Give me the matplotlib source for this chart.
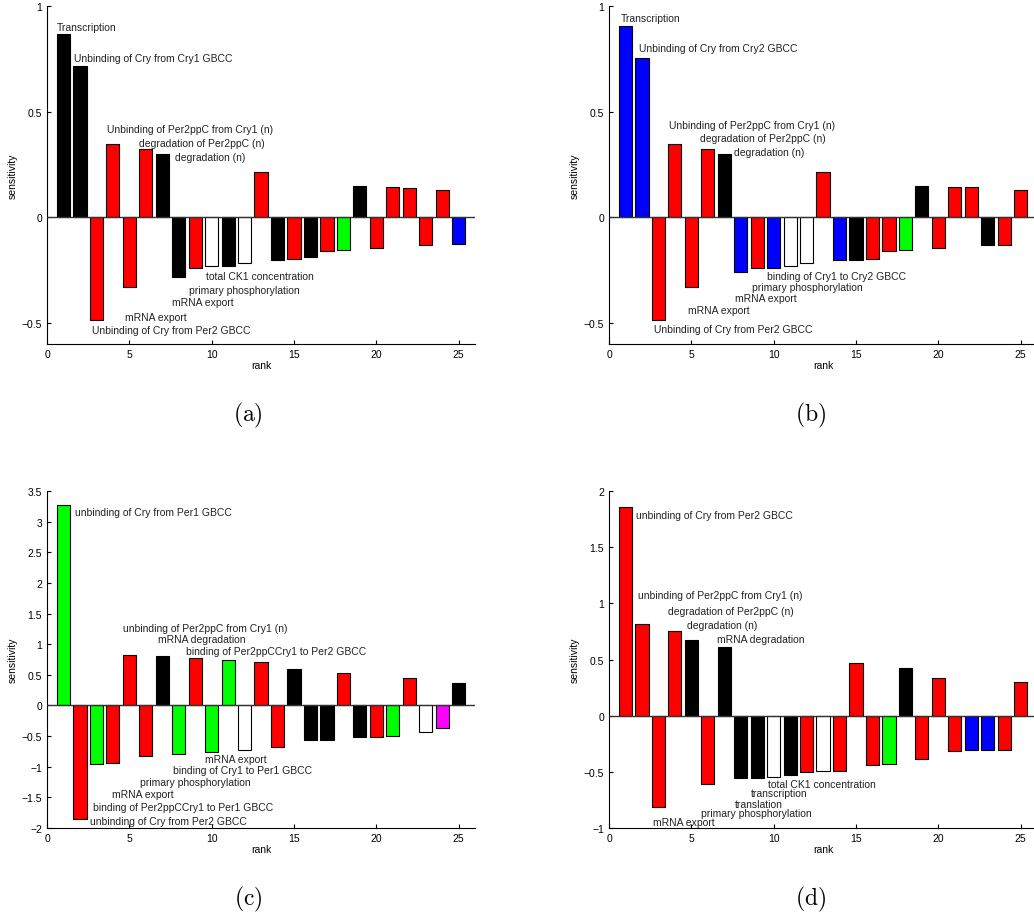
import matplotlib
matplotlib.use('Agg')
import matplotlib.pyplot as plt

plt.rcParams['font.family'] = ['Liberation Sans', 'DejaVu Sans']
plt.rcParams['mathtext.fontset'] = 'cm'

# colour codes per bar: k black, r red, g green, b blue, w white, m magenta
ranks = list(range(1, 26))

vals_a = [0.867, 0.719, -0.486, 0.349, -0.328, 0.322, 0.298, -0.282, -0.241, -0.229,
          -0.230, -0.215, 0.216, -0.202, -0.197, -0.188, -0.159, -0.153, 0.151, -0.144,
          0.144, 0.140, -0.131, 0.132, -0.126]
cols_a = list('kkrrrrkkrwkwrkrkrgkrrrrrb')

vals_b = [0.907, 0.757, -0.486, 0.349, -0.328, 0.322, 0.298, -0.257, -0.240, -0.238,
          -0.229, -0.215, 0.216, -0.203, -0.202, -0.197, -0.158, -0.153, 0.151, -0.144,
          0.145, 0.142, -0.132, -0.131, 0.132]
cols_b = list('bbrrrrkbrbwwrbkrrgkrrrkrr')

vals_c = [3.28, -1.853, -0.962, -0.940, 0.832, -0.832, 0.804, -0.788, 0.777, -0.761,
          0.750, -0.723, 0.712, -0.679, 0.598, -0.560, -0.560, 0.527, -0.522, -0.516,
          -0.500, 0.451, -0.440, -0.370, 0.370]
cols_c = list('grgrrrkgrggwrrkkkrkrgrwmk')

vals_d = [1.858, 0.817, -0.811, 0.751, 0.675, -0.609, 0.609, -0.559, -0.559, -0.544,
          -0.530, -0.500, -0.497, -0.491, 0.473, -0.441, -0.432, 0.423, -0.388, 0.334,
          -0.314, -0.308, -0.308, -0.305, 0.302]
cols_d = list('rrrrkrkkkwkrwrrrgkrrrbbrr')

labels_a = ['Transcription', 'Unbinding of Cry from Cry1 GBCC',
            'Unbinding of Per2ppC from Cry1 (n)', 'degradation of Per2ppC (n)',
            'degradation (n)', 'total CK1 concentration', 'primary phosphorylation',
            'mRNA export', 'mRNA export', 'Unbinding of Cry from Per2 GBCC']
labels_b = ['Transcription', 'Unbinding of Cry from Cry2 GBCC',
            'Unbinding of Per2ppC from Cry1 (n)', 'degradation of Per2ppC (n)',
            'degradation (n)', 'binding of Cry1 to Cry2 GBCC', 'primary phosphorylation',
            'mRNA export', 'mRNA export', 'Unbinding of Cry from Per2 GBCC']
labels_c = ['unbinding of Cry from Per1 GBCC', 'unbinding of Per2ppC from Cry1 (n)',
            'mRNA degradation', 'binding of Per2ppCCry1 to Per2 GBCC', 'mRNA export',
            'binding of Cry1 to Per1 GBCC', 'primary phosphorylation', 'mRNA export',
            'binding of Per2ppCCry1 to Per1 GBCC', 'unbinding of Cry from Per2 GBCC']
labels_d = ['unbinding of Cry from Per2 GBCC', 'unbinding of Per2ppC from Cry1 (n)',
            'degradation of Per2ppC (n)', 'degradation (n)', 'mRNA degradation',
            'total CK1 concentration', 'transcription', 'translation',
            'primary phosphorylation', 'mRNA export']

# where the labels sit (data coords, left edge / vertical centre)
pos_a = [(0.57, 0.90), (1.66, 0.754), (3.64, 0.42), (5.6, 0.352), (7.78, 0.287),
         (9.66, -0.276), (8.65, -0.342), (7.58, -0.402), (4.71, -0.47), (2.75, -0.536)]
pos_b = [(0.69, 0.945), (1.82, 0.803), (3.64, 0.438), (5.55, 0.377), (7.57, 0.309),
         (9.62, -0.279), (8.70, -0.328), (7.63, -0.380), (4.82, -0.437), (2.73, -0.530)]
pos_c = [(1.70, 3.163), (4.61, 1.272), (6.73, 1.082), (8.45, 0.886), (9.60, -0.875),
         (7.64, -1.054), (5.66, -1.25), (3.92, -1.451), (2.79, -1.658), (2.63, -1.88)]
pos_d = [(1.66, 1.79), (1.78, 1.071), (3.56, 0.929), (4.72, 0.805), (6.56, 0.680),
         (9.68, -0.607), (8.60, -0.686), (7.63, -0.784), (5.57, -0.867), (2.67, -0.944)]

colour_map = {'k': 'black', 'r': '#ff0000', 'g': '#00ff00', 'b': '#0000ff',
              'w': 'white', 'm': '#ff00ff'}

fig = plt.figure(figsize=(10.34, 9.2), dpi=100)

panels = [
    ([0.0455, 0.625, 0.414, 0.367], vals_a, cols_a, labels_a, pos_a, (-0.6, 1), [-0.5, 0, 0.5, 1], '(a)'),
    ([0.589, 0.625, 0.414, 0.367], vals_b, cols_b, labels_b, pos_b, (-0.6, 1), [-0.5, 0, 0.5, 1], '(b)'),
    ([0.0455, 0.099, 0.414, 0.366], vals_c, cols_c, labels_c, pos_c, (-2, 3.5),
     [-2, -1.5, -1, -0.5, 0, 0.5, 1, 1.5, 2, 2.5, 3, 3.5], '(c)'),
    ([0.589, 0.099, 0.414, 0.366], vals_d, cols_d, labels_d, pos_d, (-1, 2),
     [-1, -0.5, 0, 0.5, 1, 1.5, 2], '(d)'),
]

for rect, vals, cols, labels, pos, ylim, yticks, cap in panels:
    ax = fig.add_axes(rect)
    ax.bar(ranks, vals, width=0.8, color=[colour_map[c] for c in cols],
           edgecolor='black', linewidth=0.8, zorder=2)
    ax.axhline(0, color='#333333', linewidth=1.0, zorder=3)
    ax.set_xlim(0, 26)
    ax.set_ylim(*ylim)
    ax.set_xticks([0, 5, 10, 15, 20, 25])
    ax.set_yticks(yticks)
    ax.set_yticklabels([('%g' % t).replace('-', '\u2212') for t in yticks])
    ax.spines['top'].set_visible(False)
    ax.spines['right'].set_visible(False)
    ax.tick_params(direction='in', length=3, labelsize=7.5, width=0.8)
    ax.set_xlabel('rank', fontsize=7.5, labelpad=1)
    ax.set_ylabel('sensitivity', fontsize=7.5, labelpad=3)
    for txt, (x, y) in zip(labels, pos):
        ax.text(x, y, txt, fontsize=7.5, ha='left', va='center', color='#222222',
                zorder=4, clip_on=False)
    ax.text(0.47, -0.208, r'$\mathrm{' + cap + '}$', transform=ax.transAxes,
            fontsize=17, ha='center', va='center')

fig.savefig('out.png', dpi=100)
